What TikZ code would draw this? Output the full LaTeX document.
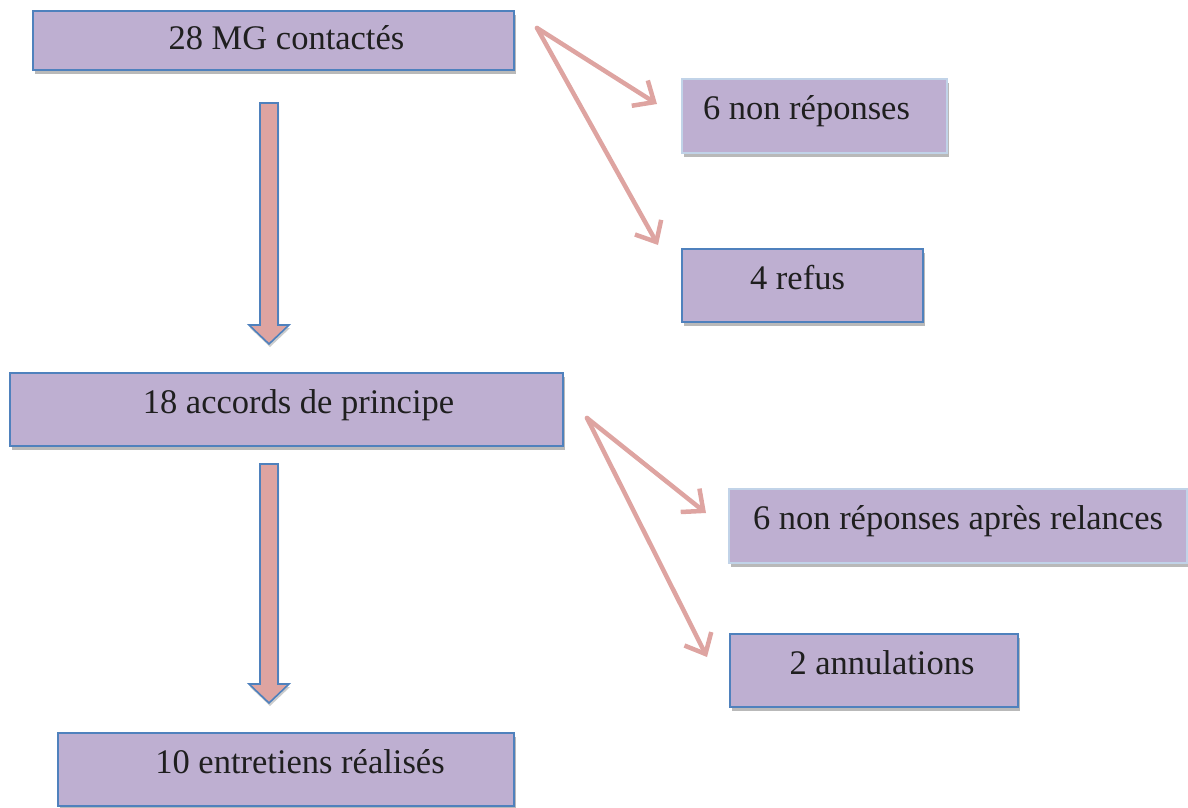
\documentclass[tikz,border=0pt]{standalone}
\usepackage{fontspec}
\setmainfont{Liberation Serif}
\usepackage[table]{xcolor}
\usepackage{tikz}
\usetikzlibrary{arrows.meta,shadows,calc}

\definecolor{boxfill}{RGB}{190,175,209}
\definecolor{boxline}{RGB}{79,129,189}
\definecolor{arrowpink}{RGB}{222,164,161}

% wide down arrow, from #1 (top of shaft) to #2 (tip)
\newcommand{\blockarrow}[2]{%
  \draw [bigarrow] ($(#1)+(-9,0)$) -- ($(#2)+(-9,-19)$) -- ($(#2)+(-20,-19)$) -- (#2)
        -- ($(#2)+(20,-19)$) -- ($(#2)+(9,-19)$) -- ($(#1)+(9,0)$) -- cycle;}

\begin{document}
\begin{tikzpicture}[x=1pt, y=-1pt,
    box/.style={draw=boxline, line width=1.6pt, fill=boxfill, minimum height=73pt,
      inner sep=0pt, text height=16pt, text depth=9pt, text=black!88,
      font=\fontsize{34.5}{40}\selectfont,
      drop shadow={shadow xshift=1.5pt, shadow yshift=-4pt, opacity=0.55}},
    thinarrow/.style={arrowpink, line width=4.5pt, line cap=round,
      -{Straight Barb[length=17pt,width=30pt]}},
    bigarrow/.style={draw=boxline, line width=1.6pt, fill=arrowpink,
      drop shadow={shadow xshift=1pt, shadow yshift=-3pt, opacity=0.4}}]
        \useasboundingbox (0,0) rectangle (1188,807);

        \node [box, minimum width=481pt, minimum height=59pt, text height=26pt]
              (mg) at (273.5,40.5)         {\hspace*{26pt}28 MG contactés};        %MG
        \node [box, minimum width=265pt, minimum height=74pt, draw=boxline!35]
              (nonrep) at (814.5,116)      {\hspace*{-16pt}6 non réponses};        %sans reponse
        \node [box, minimum width=241pt]
              (refus) at (802.5,285.5)     {\hspace*{-10pt}4 refus};               %refus
        \node [box, minimum width=553pt]
              (accords) at (286.5,409.5)   {\hspace*{24pt}18 accords de principe}; %accords
        \node [box, minimum width=458pt, minimum height=74pt, draw=boxline!35]
              (relances) at (958,526)      {6 non réponses après relances};        %relances
        \node [box, minimum width=288pt]
              (annul) at (874,670.5)       {\hspace*{16pt}2 annulations};          %annulations
        \node [box, minimum width=456pt]
              (entretiens) at (286,769.5)  {\hspace*{28pt}10 entretiens réalisés}; %entretiens

        \coordinate (a1top) at (269,103);  \coordinate (a1tip) at (269,344);
        \coordinate (a2top) at (269,464);  \coordinate (a2tip) at (269,703);
        \blockarrow{a1top}{a1tip}                                          %MG -> accords
        \blockarrow{a2top}{a2tip}                                          %accords -> entretiens

        \coordinate (fork1) at (537,28);
        \coordinate (tip11) at (657,104);  \coordinate (tip12) at (658,245);
        \draw [thinarrow] (fork1) -- (tip11);                              %-> non reponses
        \draw [thinarrow] (fork1) -- (tip12);                              %-> refus

        \coordinate (fork2) at (587,418);
        \coordinate (tip21) at (706,513);  \coordinate (tip22) at (707,657);
        \draw [thinarrow] (fork2) -- (tip21);                              %-> relances
        \draw [thinarrow] (fork2) -- (tip22);                              %-> annulations
\end{tikzpicture}
\end{document}
